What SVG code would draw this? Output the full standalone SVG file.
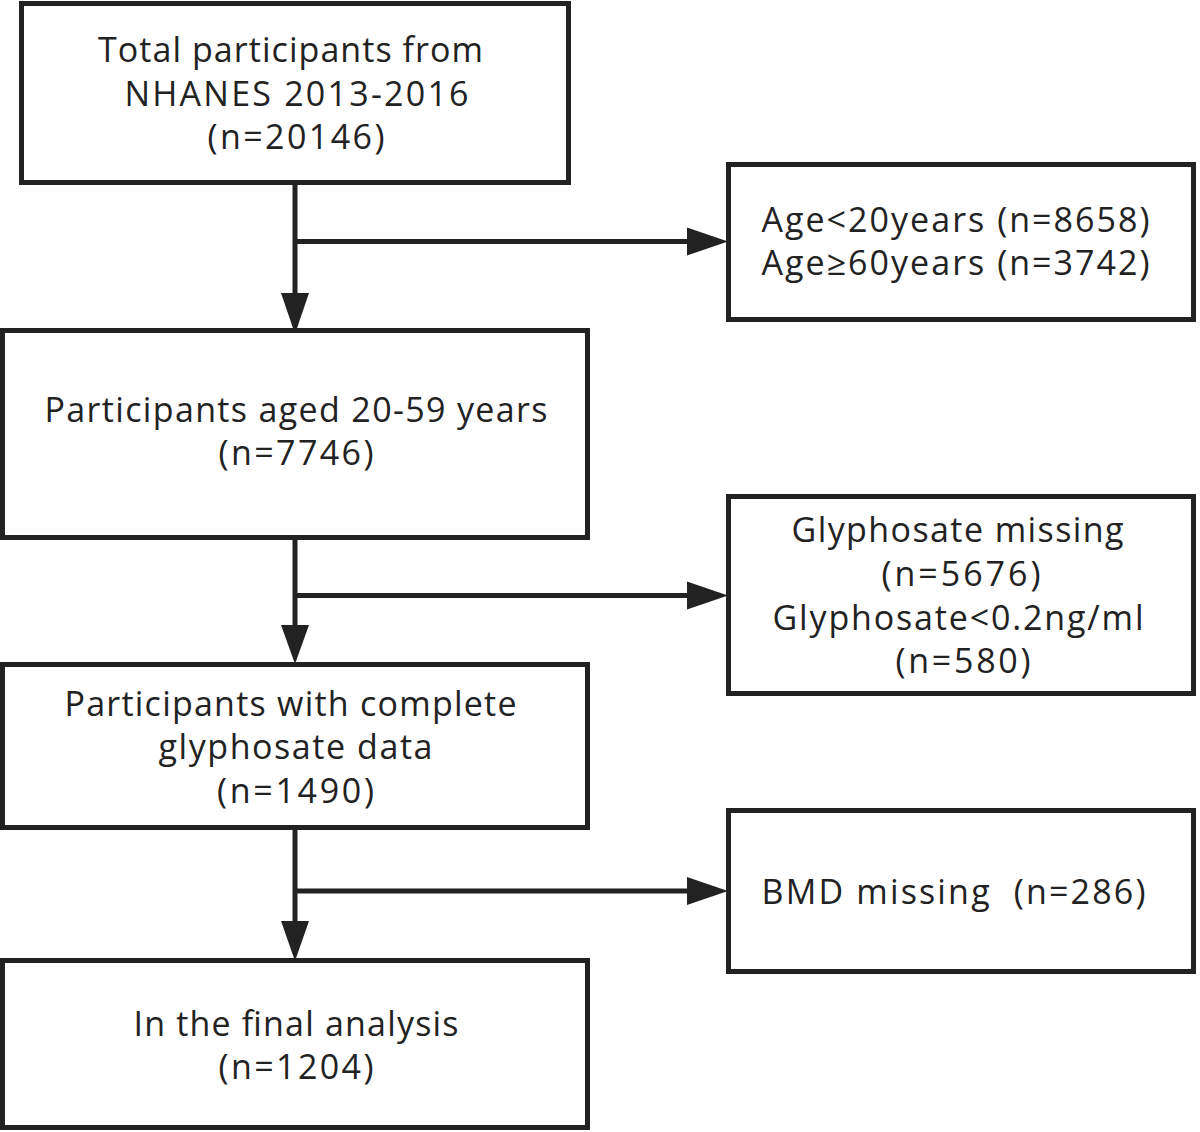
<svg xmlns="http://www.w3.org/2000/svg" width="1200" height="1132" viewBox="0 0 1200 1132">
<style>
.box{fill:#ffffff;stroke:#222222;stroke-width:5}
.t{font-family:"Open Sans","Noto Sans","DejaVu Sans",sans-serif;font-size:34px;fill:#222222;text-anchor:middle}
.ln{stroke:#222222;stroke-width:5;fill:none}
.ah{fill:#222222}
</style>
<rect width="1200" height="1132" fill="#ffffff"/>
<g id="connectors">
<line class="ln" x1="295" y1="185" x2="295" y2="300"/>
<polygon class="ah" points="281,293 309,293 295,334"/>
<line class="ln" x1="295" y1="241.5" x2="692" y2="241.5"/>
<polygon class="ah" points="687,227.5 687,255.5 728,241.5"/>
<line class="ln" x1="295" y1="538" x2="295" y2="632"/>
<polygon class="ah" points="281,625 309,625 295,664"/>
<line class="ln" x1="295" y1="595.5" x2="692" y2="595.5"/>
<polygon class="ah" points="687,581.5 687,609.5 728,595.5"/>
<line class="ln" x1="295" y1="830" x2="295" y2="928"/>
<polygon class="ah" points="281,921 309,921 295,961"/>
<line class="ln" x1="295" y1="891" x2="692" y2="891"/>
<polygon class="ah" points="687,877 687,905 728,891"/>
</g>
<g id="n1">
<rect class="box" x="21.5" y="3.5" width="547" height="179"/>
<text class="t" x="290.5" y="62" textLength="385" lengthAdjust="spacing">Total participants from</text>
<text class="t" x="296.5" y="106" textLength="344" lengthAdjust="spacing">NHANES 2013-2016</text>
<text class="t" x="296" y="149" textLength="177" lengthAdjust="spacing">(n=20146)</text>
</g>
<g id="e1">
<rect class="box" x="728.5" y="164.5" width="465" height="155"/>
<text class="t" x="955.5" y="232" textLength="388" lengthAdjust="spacing">Age&lt;20years (n=8658)</text>
<text class="t" x="955.5" y="275" textLength="388" lengthAdjust="spacing">Age≥60years (n=3742)</text>
</g>
<g id="n2">
<rect class="box" x="2.5" y="330.5" width="585" height="207"/>
<text class="t" x="296" y="422" textLength="503" lengthAdjust="spacing">Participants aged 20-59 years</text>
<text class="t" x="296" y="465" textLength="155" lengthAdjust="spacing">(n=7746)</text>
</g>
<g id="e2">
<rect class="box" x="728.5" y="496.5" width="465" height="197"/>
<text class="t" x="957.5" y="542" textLength="332" lengthAdjust="spacing">Glyphosate missing</text>
<text class="t" x="961" y="586" textLength="159" lengthAdjust="spacing">(n=5676)</text>
<text class="t" x="958" y="630" textLength="371" lengthAdjust="spacing">Glyphosate&lt;0.2ng/ml</text>
<text class="t" x="963" y="673" textLength="135" lengthAdjust="spacing">(n=580)</text>
</g>
<g id="n3">
<rect class="box" x="2.5" y="664.5" width="585" height="163"/>
<text class="t" x="290.5" y="716" textLength="452" lengthAdjust="spacing">Participants with complete</text>
<text class="t" x="295.5" y="759" textLength="274" lengthAdjust="spacing">glyphosate data</text>
<text class="t" x="295.5" y="803" textLength="157" lengthAdjust="spacing">(n=1490)</text>
</g>
<g id="e3">
<rect class="box" x="728.5" y="810.5" width="465" height="161"/>
<text class="t" x="953.5" y="904" textLength="384" lengthAdjust="spacing" xml:space="preserve">BMD missing  (n=286)</text>
</g>
<g id="n4">
<rect class="box" x="2.5" y="960.5" width="585" height="167"/>
<text class="t" x="296" y="1036" textLength="325" lengthAdjust="spacing">In the final analysis</text>
<text class="t" x="296" y="1079" textLength="155" lengthAdjust="spacing">(n=1204)</text>
</g>
</svg>
